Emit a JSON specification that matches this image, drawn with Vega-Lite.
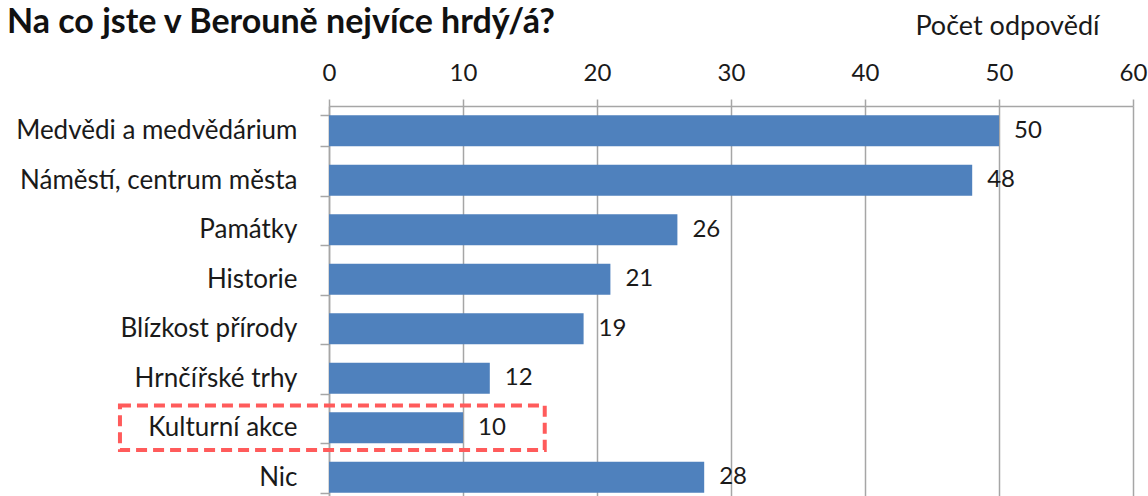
{
  "$schema": "https://vega.github.io/schema/vega-lite/v6.json",
  "autosize": {"type": "none"},
  "padding": {"left": 329, "top": 106, "right": 15, "bottom": 0},
  "width": 804,
  "height": 390,
  "background": "white",
  "title": {
    "text": "Na co jste v Berouně nejvíce hrdý/á?",
    "anchor": "start",
    "frame": "group",
    "dx": -322,
    "dy": 32,
    "font": "Lato",
    "fontSize": 34,
    "fontWeight": "bold",
    "color": "#111111"
  },
  "config": {
    "view": {"stroke": null},
    "font": "Lato"
  },
  "datasets": {
    "bars": [
      {"label": "Medvědi a medvědárium", "value": 50},
      {"label": "Náměstí, centrum města", "value": 48},
      {"label": "Památky", "value": 26},
      {"label": "Historie", "value": 21},
      {"label": "Blízkost přírody", "value": 19},
      {"label": "Hrnčířské trhy", "value": 12},
      {"label": "Kulturní akce", "value": 10},
      {"label": "Nic", "value": 28}
    ],
    "highlight": [
      {"label": "Kulturní akce", "x1": -15.6, "x2": 16.1}
    ]
  },
  "layer": [
    {
      "data": {"name": "bars"},
      "layer": [
        {
          "mark": {"type": "bar", "color": "#4f81bd"},
          "encoding": {
            "y": {
              "field": "label", "type": "nominal", "sort": null,
              "scale": {"range": [0, 396], "paddingInner": 0.37, "paddingOuter": 0.185},
              "axis": {
                "title": null,
                "domainColor": "#a6a6a6", "domainWidth": 1.5,
                "tickColor": "#a6a6a6", "tickWidth": 1.5, "tickSize": 9,
                "tickBand": "extent",
                "labelFont": "Lato", "labelFontSize": 26, "labelColor": "#1a1a1a",
                "labelPadding": 23, "labelLimit": 400
              }
            },
            "x": {
              "field": "value", "type": "quantitative",
              "scale": {"domain": [0, 60], "nice": false},
              "axis": {
                "orient": "top",
                "title": "Počet odpovědí",
                "titleFont": "Lato", "titleFontSize": 27, "titleFontWeight": "normal", "titleColor": "#1a1a1a",
                "titleAlign": "right", "titleBaseline": "alphabetic",
                "titleX": 770, "titleY": -72, "titleAnchor": null,
                "values": [0, 10, 20, 30, 40, 50, 60],
                "grid": true, "gridColor": "#a6a6a6", "gridWidth": 1.5,
                "domainColor": "#a6a6a6", "domainWidth": 1.5,
                "tickColor": "#a6a6a6", "tickWidth": 1.5, "tickSize": 7,
                "labelFont": "Lato", "labelFontSize": 24, "labelColor": "#1a1a1a",
                "labelPadding": 14, "labelFlush": false
              }
            }
          }
        },
        {
          "mark": {"type": "text", "align": "left", "baseline": "middle", "dx": 15, "font": "Lato", "fontSize": 24, "color": "#1a1a1a"},
          "encoding": {
            "y": {"field": "label", "type": "nominal", "sort": null},
            "x": {"field": "value", "type": "quantitative"},
            "text": {"field": "value", "type": "quantitative"}
          }
        }
      ]
    },
    {
      "data": {"name": "highlight"},
      "mark": {"type": "rect", "fill": null, "stroke": "#ff5b5b", "strokeWidth": 4, "strokeDash": [11, 6]},
      "encoding": {
        "y": {
          "field": "label", "type": "nominal",
          "scale": {"domain": ["Medvědi a medvědárium", "Náměstí, centrum města", "Památky", "Historie", "Blízkost přírody", "Hrnčířské trhy", "Kulturní akce", "Nic"], "range": [0, 396], "paddingInner": 0.1, "paddingOuter": 0.05},
          "axis": null
        },
        "x": {"field": "x1", "type": "quantitative"},
        "x2": {"field": "x2"}
      }
    }
  ],
  "resolve": {"scale": {"y": "independent"}, "axis": {"y": "independent"}}
}
